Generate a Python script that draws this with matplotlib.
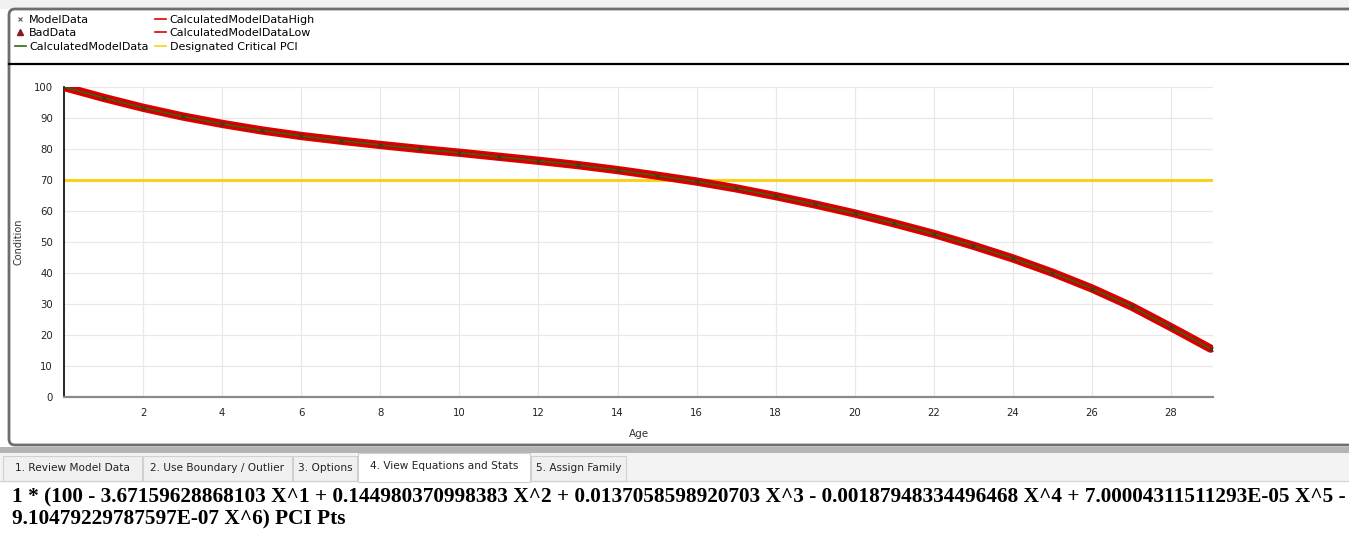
import matplotlib.pyplot as plt
from matplotlib.patches import FancyBboxPatch, Rectangle
from matplotlib.lines import Line2D

# values (age in years, condition in PCI points)
age = [0, 1, 2, 3, 4, 5, 6, 7, 8, 9, 10, 11, 12, 13, 14,
       15, 16, 17, 18, 19, 20, 21, 22, 23, 24, 25, 26, 27, 28, 29]
model_cond = [100.0, 96.5, 93.3, 90.5, 88.1, 86.0, 84.2, 82.7, 81.3, 80.0,
              78.8, 77.5, 76.2, 74.8, 73.2, 71.4, 69.5, 67.3, 64.8, 62.1,
              59.2, 56.0, 52.6, 48.8, 44.7, 40.1, 35.0, 29.2, 22.5, 15.6]
calc_cond = model_cond
calc_high = model_cond
calc_low = model_cond
bad_age = []
bad_cond = []
critical_pci = 70

tab_names = ["1. Review Model Data", "2. Use Boundary / Outlier", "3. Options",
             "4. View Equations and Stats", "5. Assign Family"]
tab_edges = [3, 143, 293, 358, 531, 627]
selected_tab = 3

equation = ("1 * (100 - 3.67159628868103 X^1 + 0.144980370998383 X^2 + 0.0137058598920703 X^3 "
            "- 0.00187948334496468 X^4 + 7.00004311511293E-05 X^5 -\n"
            "9.10479229787597E-07 X^6) PCI Pts")

W, H = 1349, 554
fig = plt.figure(figsize=(W / 100, H / 100), dpi=100)

# background canvas in pixel coordinates
bg = fig.add_axes([0, 0, 1, 1])
bg.set_xlim(0, W)
bg.set_ylim(H, 0)
bg.axis('off')
bg.add_patch(Rectangle((0, 0), W, 9, color='#f0f0f0', lw=0))
bg.add_patch(FancyBboxPatch((9, 9), W + 20, 436, boxstyle="round,pad=0,rounding_size=6",
                            fc='white', ec='#6e6e6e', lw=2))
bg.plot([9, W], [64, 64], color='black', lw=1.6)
bg.add_patch(Rectangle((0, 447), W, 6, color='#b4b4b4', lw=0))
bg.add_patch(Rectangle((0, 453), W, 28, color='#f3f3f3', lw=0))
bg.plot([0, W], [481, 481], color='#d8d8d8', lw=1)

# tabs
for i, name in enumerate(tab_names):
    x0, x1 = tab_edges[i], tab_edges[i + 1] - 1
    if i == selected_tab:
        bg.add_patch(Rectangle((x0, 453), x1 - x0, 29, fc='white', ec='#d0d0d0', lw=0.8, zorder=3))
        ty = 466
    else:
        bg.add_patch(Rectangle((x0, 456), x1 - x0, 25, fc='#f0f0f0', ec='#d0d0d0', lw=0.8, zorder=2))
        ty = 468
    bg.text((x0 + x1) / 2, ty, name, ha='center', va='center', fontsize=7.6,
            color='#222222', zorder=4)

bg.text(12, 487, equation, ha='left', va='top', fontsize=15.3, fontweight='bold',
        family='Liberation Serif', color='black', linespacing=1.15)

# main chart
ax = fig.add_axes([64 / W, 1 - 397 / H, (1213 - 64) / W, (397 - 87) / H])
ax.plot(age, calc_high, color='#e00000', lw=6.0, solid_capstyle='round', zorder=3,
        label='CalculatedModelDataHigh')
ax.plot(age, calc_low, color='#d40000', lw=4.0, solid_capstyle='round', zorder=3,
        label='CalculatedModelDataLow')
ax.plot(age, calc_cond, color='#2e6b10', lw=1.1, zorder=4, label='CalculatedModelData')
ax.plot(age, model_cond, ls='none', marker='x', ms=3.5, mew=0.8, color='#3a3a1a', zorder=5,
        label='ModelData')
ax.plot(bad_age, bad_cond, ls='none', marker='^', ms=4, color='#8b1a1a', label='BadData')
ax.axhline(critical_pci, color='#f7d21a', lw=2.2, zorder=2, label='Designated Critical PCI')

ax.set_xlim(0, 29.06)
ax.set_ylim(0, 100)
ax.set_xticks(range(2, 29, 2))
ax.set_yticks(range(0, 101, 10))
ax.grid(True, color='#e8e8e8', lw=0.9)
ax.set_axisbelow(True)
ax.tick_params(length=0, labelsize=7.3, colors='#222222', pad=8)
ax.spines['top'].set_visible(False)
ax.spines['right'].set_visible(False)
ax.spines['left'].set_color('black')
ax.spines['left'].set_linewidth(1.2)
ax.spines['bottom'].set_color('#8a8a8a')
ax.spines['bottom'].set_linewidth(1.6)
ax.set_xlabel('Age', fontsize=7.5, color='#333333', labelpad=8)
ax.set_ylabel('Condition', fontsize=7, color='#333333')
ax.yaxis.set_label_coords(-40 / 1149, 0.5)

# legend
handles = [
    Line2D([], [], ls='none', marker='x', ms=3.5, mew=0.8, color='#555555'),
    Line2D([], [], ls='none', marker='^', ms=4, color='#8b1a1a'),
    Line2D([], [], color='#2e6b10', lw=1.2),
    Line2D([], [], color='#e00000', lw=1.2),
    Line2D([], [], color='#e00000', lw=1.2),
    Line2D([], [], color='#f7d21a', lw=1.2),
]
labels = ['ModelData', 'BadData', 'CalculatedModelData',
          'CalculatedModelDataHigh', 'CalculatedModelDataLow', 'Designated Critical PCI']
fig.legend(handles, labels, ncol=2, loc='upper left', bbox_to_anchor=(7 / W, 1 - 7 / H),
           frameon=False, fontsize=8, handlelength=1.0, handletextpad=0.3,
           columnspacing=0.6, labelspacing=0.32, borderpad=0.2)

fig.savefig('out.png', dpi=100)
